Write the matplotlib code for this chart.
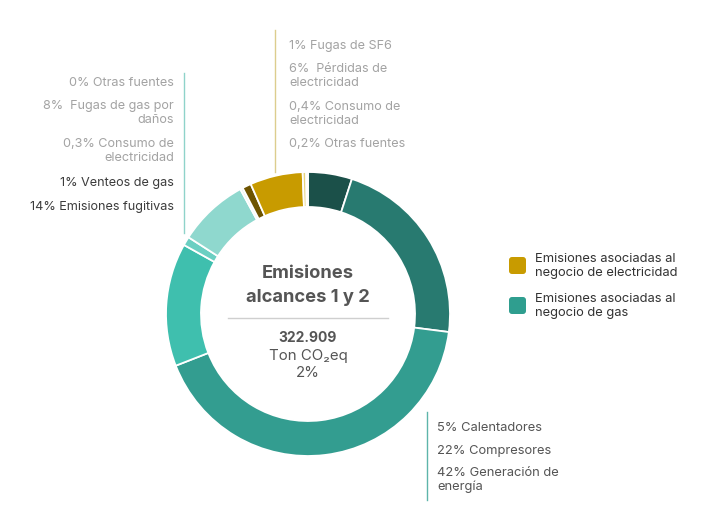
import matplotlib.pyplot as plt
from matplotlib.patches import FancyBboxPatch

plt.rcParams['font.family'] = ['Inter', 'DejaVu Sans']

# slices, clockwise from 12 o'clock
labels = ['Calentadores', 'Compresores', 'Generación de energía', 'Emisiones fugitivas',
          'Venteos de gas', 'Fugas de gas por daños', 'Consumo de electricidad (gas)',
          'Otras fuentes (gas)', 'Fugas de SF6', 'Pérdidas de electricidad',
          'Consumo de electricidad', 'Otras fuentes']
values = [5, 22, 42, 14, 1, 8, 0.3, 0, 1, 6, 0.4, 0.2]
colors = ['#1b5049', '#287a70', '#339d90', '#3fbfae', '#6bcfc2', '#8fd8ce', '#e4f4f1',
          '#e4f4f1', '#6e5400', '#c89b00', '#e6d37c', '#f1e5ac']

left_labels = ['0% Otras fuentes', '8%  Fugas de gas por\ndaños', '0,3% Consumo de\nelectricidad',
               '1% Venteos de gas', '14% Emisiones fugitivas']
left_y = [83, 113, 151, 183, 207]
left_col = ['#a3a3a3', '#a3a3a3', '#a3a3a3', '#3c3c3c', '#3c3c3c']

top_labels = ['1% Fugas de SF6', '6%  Pérdidas de\nelectricidad', '0,4% Consumo de\nelectricidad',
              '0,2% Otras fuentes']
top_y = [46, 76, 114, 144]

bottom_labels = ['5% Calentadores', '22% Compresores', '42% Generación de\nenergía']
bottom_y = [428, 451, 480]

legend_labels = ['Emisiones asociadas al\nnegocio de electricidad',
                 'Emisiones asociadas al\nnegocio de gas']
legend_colors = ['#c89b00', '#2f9e8f']
legend_y = [266, 306]

W, H = 702, 522
fig = plt.figure(figsize=(W / 100, H / 100), dpi=100)
ax = fig.add_axes([0, 0, 1, 1])

cx, cy, r = 308, H - 314, 142
ax.pie(values, colors=colors, startangle=90, counterclock=False, center=(cx, cy), radius=r,
       wedgeprops=dict(width=35, edgecolor='white', linewidth=1.3))
ax.set_xlim(0, W)
ax.set_ylim(0, H)
ax.axis('off')

# center text
ax.text(cx, H - 273, 'Emisiones', ha='center', va='center', fontsize=13.2,
        fontweight='bold', color='#555555')
ax.text(cx, H - 298, 'alcances 1 y 2', ha='center', va='center', fontsize=13.2,
        fontweight='bold', color='#555555')
ax.plot([228, 388], [H - 318, H - 318], color='#cfcfcf', lw=1)
ax.text(cx, H - 338, '322.909', ha='center', va='center', fontsize=10,
        fontweight='bold', color='#555555')
ax.text(cx, H - 356, 'Ton CO₂eq', ha='center', va='center', fontsize=10.8, color='#555555')
ax.text(cx, H - 373, '2%', ha='center', va='center', fontsize=10.8, color='#555555')

fs = 9.1
# left labels
ax.plot([184, 184], [H - 73, H - 233], color='#8fd3ca', lw=1)
for t, y, c in zip(left_labels, left_y, left_col):
    ax.text(174, H - y, t, ha='right', va='center', fontsize=fs, color=c,
            multialignment='right', linespacing=1.2)

# top labels
ax.plot([275, 275], [H - 30, H - 172], color='#dccd8e', lw=1)
for t, y in zip(top_labels, top_y):
    ax.text(289, H - y, t, ha='left', va='center', fontsize=fs, color='#a3a3a3',
            linespacing=1.2)

# bottom labels
ax.plot([427, 427], [H - 412, H - 500], color='#5db5aa', lw=1)
for t, y in zip(bottom_labels, bottom_y):
    ax.text(437, H - y, t, ha='left', va='center', fontsize=9.3, color='#555555',
            linespacing=1.2)

# legend
for t, c, y in zip(legend_labels, legend_colors, legend_y):
    ax.add_patch(FancyBboxPatch((509, H - y - 8), 17, 17, boxstyle='round,pad=0,rounding_size=3',
                                fc=c, ec='none'))
    ax.text(535, H - y, t, ha='left', va='center', fontsize=9.3, color='#333333',
            linespacing=1.2)

fig.savefig('out.png', dpi=100)
